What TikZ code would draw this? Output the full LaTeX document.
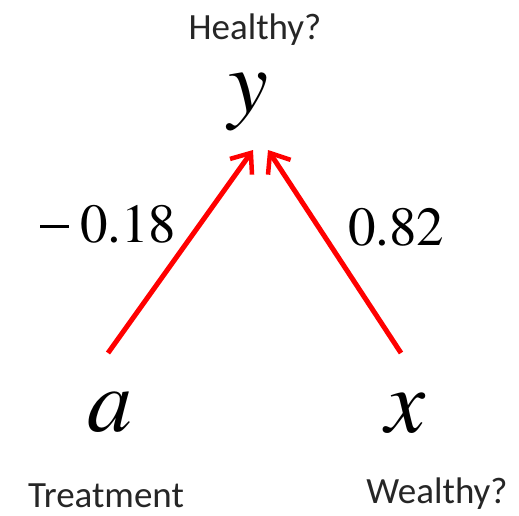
\documentclass[tikz,border=0pt]{standalone}
\usepackage{fontspec}
\newfontfamily\tnr{texgyretermes}[Extension=.otf, UprightFont=*-regular, ItalicFont=*-italic]
\newfontfamily\calfont{Carlito}
\usetikzlibrary{arrows.meta}
\begin{document}
\begin{tikzpicture}[x=1pt,y=-1pt,
  lbl/.style={font=\calfont\fontsize{37}{40}\selectfont, text=black!85, inner sep=0pt, anchor=base},
  var/.style={font=\tnr\itshape\fontsize{90}{96}\selectfont, inner sep=0pt, anchor=base},
  num/.style={font=\tnr\fontsize{55}{60}\selectfont, inner sep=0pt, anchor=base west},
  redarrow/.style={draw=red, line width=5pt, -{Straight Barb[length=17pt,width=27pt,line width=4.5pt]}}]
\useasboundingbox (0,0) rectangle (519,515);
\node[lbl] (h) at (255,39) {Healthy?};
\node[var] (y) at (248,112) {y};
\node[var] (a) at (110,431) {a};
\node[var] (x) at (405,432) {x};
\node[lbl] (t) at (106,507) {Treatment};
\node[lbl] (w) at (437,503) {Wealthy?};
\node[num] (n1) at (40,242) {\rule[14.5pt]{29pt}{2.2pt}\hspace{11pt}0.18};
\node[num] (n2) at (348,245) {0.82};
\coordinate (as) at (108,353);
\coordinate (xs) at (401,353);
\coordinate (at) at (253,150);
\coordinate (xt) at (268,150);
\draw[redarrow] (as) -- (at);
\draw[redarrow] (xs) -- (xt);
\end{tikzpicture}
\end{document}
